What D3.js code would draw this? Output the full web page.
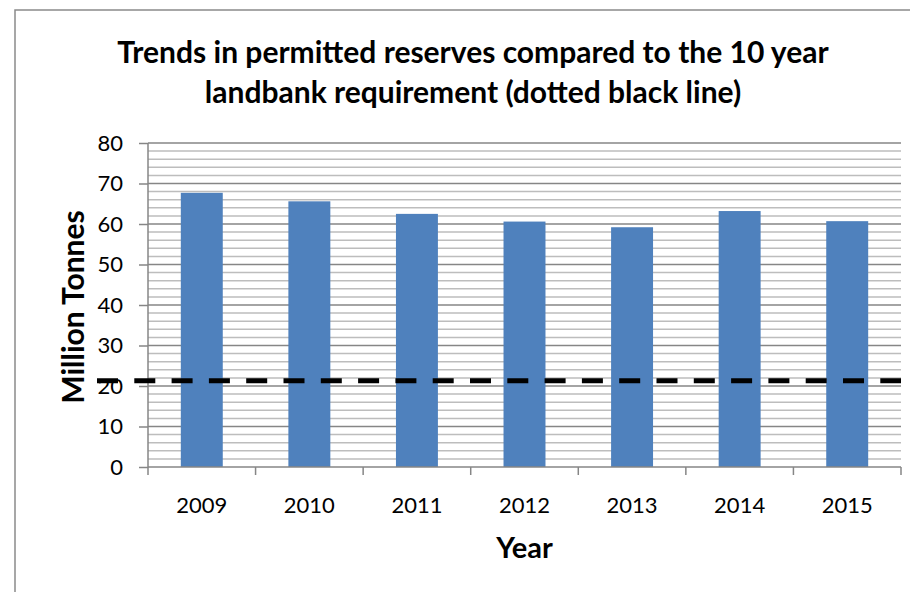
<!DOCTYPE html>
<html>
<head>
<meta charset="utf-8">
<script src="https://cdn.jsdelivr.net/npm/d3@7"></script>
<style>
  body { margin: 0; background: #fff; }
  svg { display: block; font-family: Lato, "Open Sans", sans-serif; }
  .axis path, .axis line { stroke: #868686; }
  .axis text { fill: #000; font-size: 22px; font-family: Lato, sans-serif; }
</style>
</head>
<body>
<svg width="910" height="592"></svg>
<script>
// データ
const years = ["2009", "2010", "2011", "2012", "2013", "2014", "2015"];
const reserves = [67.7, 65.6, 62.5, 60.6, 59.2, 63.2, 60.7];
const requirement = 21.3;
const yTicks = [0, 10, 20, 30, 40, 50, 60, 70, 80];

const svg = d3.select("svg"),
    margin = { top: 143, right: 9, bottom: 125, left: 148 },
    width = +svg.attr("width") - margin.left - margin.right,
    height = +svg.attr("height") - margin.top - margin.bottom;

// 外枠
svg.append("rect")
    .attr("x", 15).attr("y", 10)
    .attr("width", 1000).attr("height", 1000)
    .attr("fill", "none")
    .attr("stroke", "#8a8a8a")
    .attr("stroke-width", 1.5);

const g = svg.append("g").attr("transform", `translate(${margin.left},${margin.top})`);

const x = d3.scaleBand()
    .domain(years)
    .range([0, width])
    .paddingInner(0.61)
    .paddingOuter(0.305);

const y = d3.scaleLinear()
    .domain([0, 80])
    .range([height, 0]);

// 補助目盛線 (2刻み)
g.append("g")
    .selectAll("line")
    .data(d3.range(2, 80, 2).filter(v => v % 10 !== 0))
    .enter().append("line")
    .attr("x1", 0).attr("x2", width)
    .attr("y1", d => y(d)).attr("y2", d => y(d))
    .attr("stroke", "#bdbdbd")
    .attr("stroke-width", 1.5);

// 主目盛線
g.append("g")
    .selectAll("line")
    .data(yTicks.filter(v => v > 0))
    .enter().append("line")
    .attr("x1", 0).attr("x2", width)
    .attr("y1", d => y(d)).attr("y2", d => y(d))
    .attr("stroke", "#868686")
    .attr("stroke-width", 1.5);

// 棒グラフ
g.selectAll(".bar")
    .data(years)
    .enter().append("rect")
    .attr("class", "bar")
    .attr("x", d => x(d))
    .attr("y", (d, i) => y(reserves[i]))
    .attr("width", x.bandwidth())
    .attr("height", (d, i) => height - y(reserves[i]))
    .attr("fill", "#4f81bd");

// y軸
g.append("g")
    .attr("class", "axis")
    .call(d3.axisLeft(y).tickValues(yTicks).tickSize(9).tickPadding(16))
    .call(a => a.select(".domain").attr("d", `M0,0V${height}`).attr("stroke-width", 1.5))
    .call(a => a.selectAll("line").attr("stroke-width", 1.5));

// x軸 (区切り目盛)
const xAxis = g.append("g")
    .attr("class", "axis")
    .attr("transform", `translate(0,${height})`);
xAxis.append("line")
    .attr("x1", 0).attr("x2", width)
    .attr("stroke", "#868686").attr("stroke-width", 1.5);
xAxis.selectAll(".sep")
    .data(d3.range(years.length + 1))
    .enter().append("line")
    .attr("class", "sep")
    .attr("x1", i => i * width / years.length)
    .attr("x2", i => i * width / years.length)
    .attr("y1", 0).attr("y2", 8)
    .attr("stroke", "#868686").attr("stroke-width", 1.5);
xAxis.selectAll("text")
    .data(years)
    .enter().append("text")
    .attr("x", d => x(d) + x.bandwidth() / 2)
    .attr("y", 46)
    .attr("text-anchor", "middle")
    .text(d => d);

// 10年要件ライン (点線)
g.append("line")
    .attr("x1", -51).attr("x2", width)
    .attr("y1", y(requirement)).attr("y2", y(requirement))
    .attr("stroke", "#000")
    .attr("stroke-width", 5)
    .attr("stroke-dasharray", "21,16.3");

// タイトル
svg.append("text")
    .attr("x", 473).attr("y", 63)
    .attr("text-anchor", "middle")
    .attr("font-size", 30).attr("font-weight", "bold")
    .text("Trends in permitted reserves compared to the 10 year");
svg.append("text")
    .attr("x", 473).attr("y", 103)
    .attr("text-anchor", "middle")
    .attr("font-size", 30).attr("font-weight", "bold")
    .text("landbank requirement (dotted black line)");

// 軸ラベル
svg.append("text")
    .attr("transform", `translate(84,${margin.top + height / 2 + 2}) rotate(-90)`)
    .attr("text-anchor", "middle")
    .attr("font-size", 30).attr("font-weight", "bold")
    .text("Million Tonnes");

svg.append("text")
    .attr("x", margin.left + width / 2)
    .attr("y", 558)
    .attr("text-anchor", "middle")
    .attr("font-size", 29).attr("font-weight", "bold")
    .text("Year");
</script>
</body>
</html>
